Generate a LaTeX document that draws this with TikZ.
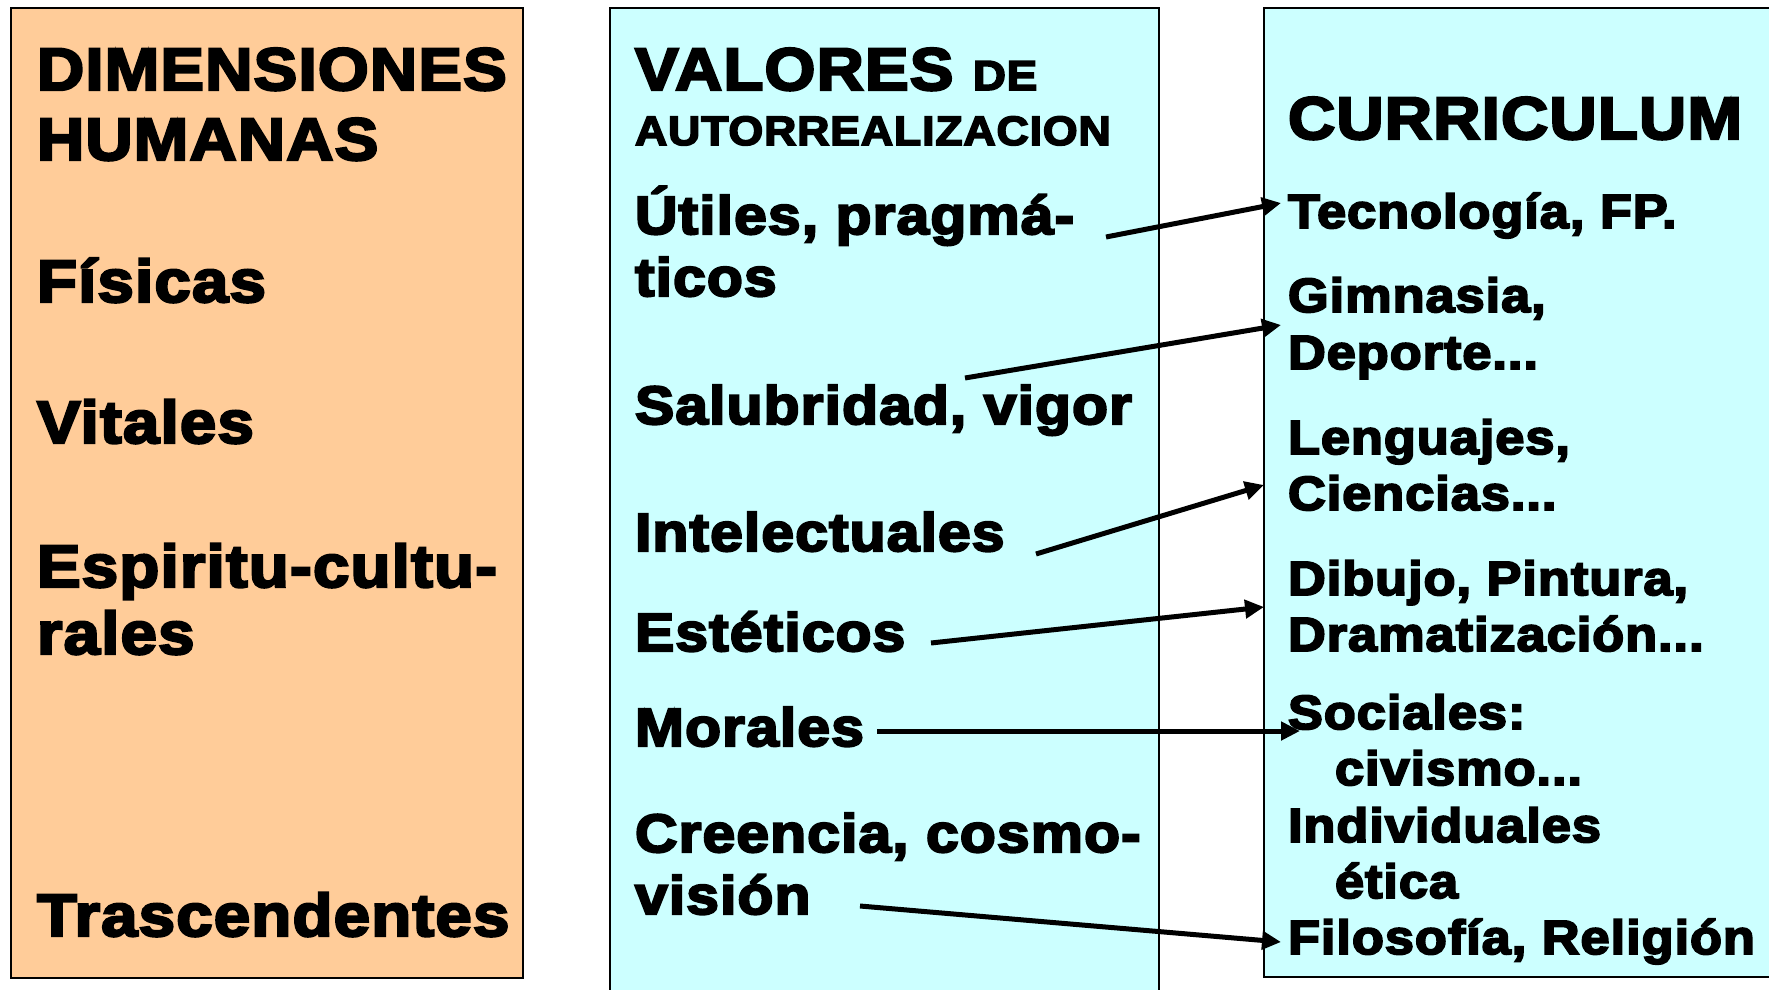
\documentclass[tikz,border=0pt]{standalone}
\usepackage{fontspec}
\setmainfont{Liberation Sans}[FakeStretch=1.09,BoldFeatures={FakeStretch=1.09,FakeBold=4,LetterSpace=2}]
\usetikzlibrary{arrows.meta}
\definecolor{peach}{HTML}{FFCC99}
\definecolor{paleCyan}{HTML}{CCFFFF}
\tikzset{
  box/.style={draw=black, line width=2pt},
  txt/.style={anchor=base west, inner sep=0pt, outer sep=0pt},
  bigt/.style={txt, font=\fontsize{60}{60}\selectfont\bfseries},
  midt/.style={txt, font=\fontsize{54}{54}\selectfont\bfseries},
  smlt/.style={txt, font=\fontsize{48}{48}\selectfont\bfseries},
  tinyt/.style={txt, font=\fontsize{41}{41}\selectfont\bfseries},
  arr/.style={line width=5pt, -{Triangle[length=19pt,width=18pt]}}
}
\begin{document}
\begin{tikzpicture}[x=1pt,y=-1pt]
\useasboundingbox (0,0) rectangle (1769,990);
% boxes
\path[box, fill=peach] (11,8) rectangle (523,978);
\path[box, fill=paleCyan] (610,8) rectangle (1159,1010);
\path[box, fill=paleCyan] (1264,8) rectangle (1790,977);
% left column
\node[bigt] (dim) at (37,90) {DIMENSIONES};
\node[bigt] (hum) at (37,160) {HUMANAS};
\node[bigt] (fis) at (37,302) {Físicas};
\node[bigt] (vit) at (37,443) {Vitales};
\node[bigt] (esp) at (37,587) {Espiritu-cultu-};
\node[bigt] (ral) at (37,654) {rales};
\node[bigt] (tra) at (37,936) {Trascendentes};
% middle column
\node[bigt] (val) at (635,90) {VALORES {\fontsize{42}{42}\selectfont DE}};
\node[tinyt] (aut) at (635,145) {AUTORREALIZACION};
\node[midt] (uti) at (635,234) {Útiles, pragmá-};
\node[midt] (tic) at (635,296) {ticos};
\node[midt] (sal) at (635,424) {Salubridad, vigor};
\node[midt] (int) at (635,551) {Intelectuales};
\node[midt] (est) at (635,651) {Estéticos};
\node[midt] (mor) at (635,746) {Morales};
\node[midt] (cre) at (635,852) {Creencia, cosmo-};
\node[midt] (vis) at (635,914) {visión};
% right column
\node[bigt] (cur) at (1288,139) {CURRICULUM};
\node[smlt] (tec) at (1288,228) {Tecnología, FP.};
\node[smlt] (gim) at (1288,312) {Gimnasia,};
\node[smlt] (dep) at (1288,369) {Deporte...};
\node[smlt] (len) at (1288,454) {Lenguajes,};
\node[smlt] (cie) at (1288,510) {Ciencias...};
\node[smlt] (dib) at (1288,595) {Dibujo, Pintura,};
\node[smlt] (dra) at (1288,651) {Dramatización...};
\node[smlt] (soc) at (1288,729) {Sociales:};
\node[smlt] (civ) at (1335,785) {civismo...};
\node[smlt] (ind) at (1288,842) {Individuales};
\node[smlt] (eti) at (1335,898) {ética};
\node[smlt] (fil) at (1288,954) {Filosofía, Religión};
% arrow end points
\coordinate (a1s) at (1106,237); \coordinate (a1e) at (1281,203);
\coordinate (a2s) at (965,378);  \coordinate (a2e) at (1281,325);
\coordinate (a3s) at (1036,554); \coordinate (a3e) at (1264,485);
\coordinate (a4s) at (931,643);  \coordinate (a4e) at (1264,607);
\coordinate (a5s) at (877,731);  \coordinate (a5e) at (1300,731);
\coordinate (a6s) at (860,906);  \coordinate (a6e) at (1281,942);
\draw[arr] (a1s) -- (a1e);
\draw[arr] (a2s) -- (a2e);
\draw[arr] (a3s) -- (a3e);
\draw[arr] (a4s) -- (a4e);
\draw[arr] (a5s) -- (a5e);
\draw[arr] (a6s) -- (a6e);
\end{tikzpicture}
\end{document}
